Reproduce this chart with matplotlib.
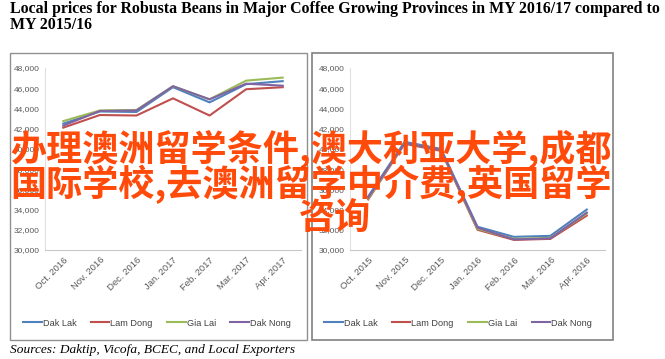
import matplotlib.pyplot as plt
from matplotlib.patches import Rectangle

# series values
months_1617 = ['Oct. 2016', 'Nov. 2016', 'Dec. 2016', 'Jan. 2017', 'Feb. 2017', 'Mar. 2017', 'Apr. 2017']
dak_lak_1617 = [42500, 43700, 43650, 46100, 44600, 46400, 46700]
lam_dong_1617 = [42100, 43350, 43300, 45000, 43300, 45900, 46100]
gia_lai_1617 = [42750, 43800, 43850, 46200, 44900, 46750, 47050]
dak_nong_1617 = [42300, 43750, 43800, 46200, 44900, 46450, 46250]

months_1516 = ['Oct. 2015', 'Nov. 2015', 'Dec. 2015', 'Jan. 2016', 'Feb. 2016', 'Mar. 2016', 'Apr. 2016']
dak_lak_1516 = [35300, 40700, 40000, 32300, 31300, 31400, 34000]
lam_dong_1516 = [35000, 40500, 39800, 32000, 31000, 31100, 33400]
gia_lai_1516 = [35100, 40600, 39900, 32100, 31100, 31200, 33600]
dak_nong_1516 = [35200, 40600, 39900, 32200, 31050, 31150, 33700]

provinces = ['Dak Lak', 'Lam Dong', 'Gia Lai', 'Dak Nong']
colors = ['#4f81bd', '#c0504d', '#9bbb59', '#8064a2']
yticks = list(range(30000, 48001, 2000))

W, H = 665, 359
fig = plt.figure(figsize=(W / 100, H / 100), dpi=100)
narrow = ['Liberation Sans Narrow', 'Liberation Sans', 'DejaVu Sans']


def px_axes(x0, y0, x1, y1):
    return fig.add_axes([x0 / W, 1 - y1 / H, (x1 - x0) / W, (y1 - y0) / H])


def draw_panel(ax, months, series, legend_x):
    for vals, name, c in zip(series, provinces, colors):
        ax.plot(range(len(months)), vals, color=c, lw=1.5, label=name)
    ax.set_xlim(-0.5, len(months) - 0.5)
    ax.set_ylim(30000, 48000)
    ax.set_yticks(yticks)
    ax.set_yticklabels([f'{v:,}' for v in yticks], family=narrow, fontsize=6, color='#595959')
    ax.set_xticks(range(len(months)))
    ax.set_xticklabels(months, rotation=45, ha='right', rotation_mode='anchor',
                       family=narrow, fontsize=6.8, color='#595959')
    ax.tick_params(length=0, pad=4)
    for s in ['top', 'right']:
        ax.spines[s].set_visible(False)
    ax.spines['left'].set_color('#e0e0e0')
    ax.spines['bottom'].set_color('#c8c8c8')
    h, l = ax.get_legend_handles_labels()
    fig.legend(h, l, loc='center', ncol=4, frameon=False, bbox_to_anchor=(legend_x / W, 1 - 323 / H),
               prop={'family': narrow, 'size': 6.6}, handlelength=2.0, handletextpad=0.1,
               columnspacing=1.6, labelcolor='#404040')


# panel frames
fig.patches.append(Rectangle((10 / W, 1 - 340 / H), 297 / W, 287 / H, transform=fig.transFigure,
                             fill=False, ec='#909090', lw=1))
fig.patches.append(Rectangle((312 / W, 1 - 340 / H), 301 / W, 287 / H, transform=fig.transFigure,
                             fill=False, ec='#808080', lw=1.2))

ax1 = px_axes(45, 68, 301, 250)
draw_panel(ax1, months_1617, [dak_lak_1617, lam_dong_1617, gia_lai_1617, dak_nong_1617], 157)
ax2 = px_axes(350, 68, 605, 250)
draw_panel(ax2, months_1516, [dak_lak_1516, lam_dong_1516, gia_lai_1516, dak_nong_1516], 458)

fig.text(10 / W, 1 - 9 / H, 'Local prices for Robusta Beans in Major Coffee Growing Provinces in MY 2016/17 compared to',
         family='Liberation Serif', weight='bold', fontsize=11.4, va='center', ha='left')
fig.text(10 / W, 1 - 25 / H, 'MY 2015/16', family='Liberation Serif', weight='bold', fontsize=11.4,
         va='center', ha='left')
fig.text(10 / W, 1 - 350 / H, 'Sources: Daktip, Vicofa, BCEC, and Local Exporters',
         family='Liberation Serif', style='italic', fontsize=9.6, va='center', ha='left')

# overlaid watermark text
wm = dict(family=['Noto Sans CJK SC', 'DejaVu Sans'], fontsize=26, color='#ff4a0a',
          weight='bold', ha='center', va='center')
fig.text(311 / W, 1 - 150 / H, '办理澳洲留学条件,澳大利亚大学,成都', **wm)
fig.text(311 / W, 1 - 184 / H, '国际学校,去澳洲留学中介费,英国留学', **wm)
fig.text(335 / W, 1 - 218 / H, '咨询', **wm)

fig.savefig('out.png', dpi=100)
